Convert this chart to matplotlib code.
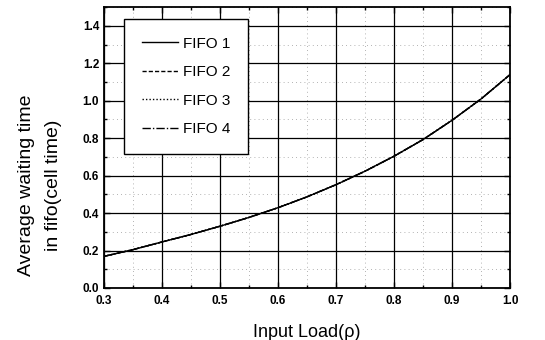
import numpy as np
import matplotlib.pyplot as plt
from matplotlib.ticker import MultipleLocator

plt.rcParams['font.family'] = ['Liberation Sans', 'DejaVu Sans']

# values (all four FIFOs lie on the same curve)
load = [0.30, 0.35, 0.40, 0.45, 0.50, 0.55, 0.60, 0.65, 0.70, 0.75, 0.80, 0.85, 0.90, 0.95, 1.00]
fifo1 = [0.169, 0.205, 0.246, 0.286, 0.330, 0.377, 0.429, 0.487, 0.552, 0.624, 0.704, 0.793, 0.896, 1.010, 1.140]
fifo2 = fifo1
fifo3 = fifo1
fifo4 = fifo1
labels = ['FIFO 1', 'FIFO 2', 'FIFO 3', 'FIFO 4']

fig = plt.figure(figsize=(5.45, 3.4), dpi=100)
ax = fig.add_axes([0.191, 0.153, 0.745, 0.826])

styles = ['-', (0, (3, 1.5)), (0, (1, 1.5)), (0, (6, 1.5, 1, 1.5))]
for ys, ls, lab in zip([fifo1, fifo2, fifo3, fifo4], styles, labels):
    ax.plot(load, ys, color='black', lw=1.0, linestyle=ls, label=lab)

ax.set_xlim(0.3, 1.0)
ax.set_ylim(0.0, 1.5)
ax.xaxis.set_major_locator(MultipleLocator(0.1))
ax.xaxis.set_minor_locator(MultipleLocator(0.05))
ax.yaxis.set_minor_locator(MultipleLocator(0.1))
ax.set_yticks(np.arange(0, 1.41, 0.2))

ax.grid(which='major', color='black', lw=0.9, ls='-')
ax.grid(which='minor', color='#999999', lw=0.6, ls=(0, (1, 4)))
ax.set_axisbelow(True)

ax.tick_params(which='both', direction='in', top=True, right=True, labelsize=8.5)
ax.tick_params(which='major', length=4, width=1)
ax.tick_params(which='minor', length=2, width=1)
ax.tick_params(axis='x', pad=5)
for lbl in ax.get_xticklabels() + ax.get_yticklabels():
    lbl.set_fontweight('bold')
for sp in ax.spines.values():
    sp.set_linewidth(1.3)

ax.set_xlabel('Input Load(ρ)', fontsize=13, labelpad=12)
fig.text(40 / 545, 1 - 185 / 340, 'Average waiting time\nin fifo(cell time)', fontsize=14,
         rotation=90, ha='center', va='center', multialignment='center', linespacing=1.75)

leg = ax.legend(loc='upper left', bbox_to_anchor=(0.049, 0.957), fontsize=11,
                fancybox=False, framealpha=1, edgecolor='black',
                handlelength=2.4, labelspacing=0.95, borderpad=1.15, handletextpad=0.3,
                borderaxespad=0)
leg.get_frame().set_linewidth(1.0)

fig.savefig('out.png', dpi=100)
